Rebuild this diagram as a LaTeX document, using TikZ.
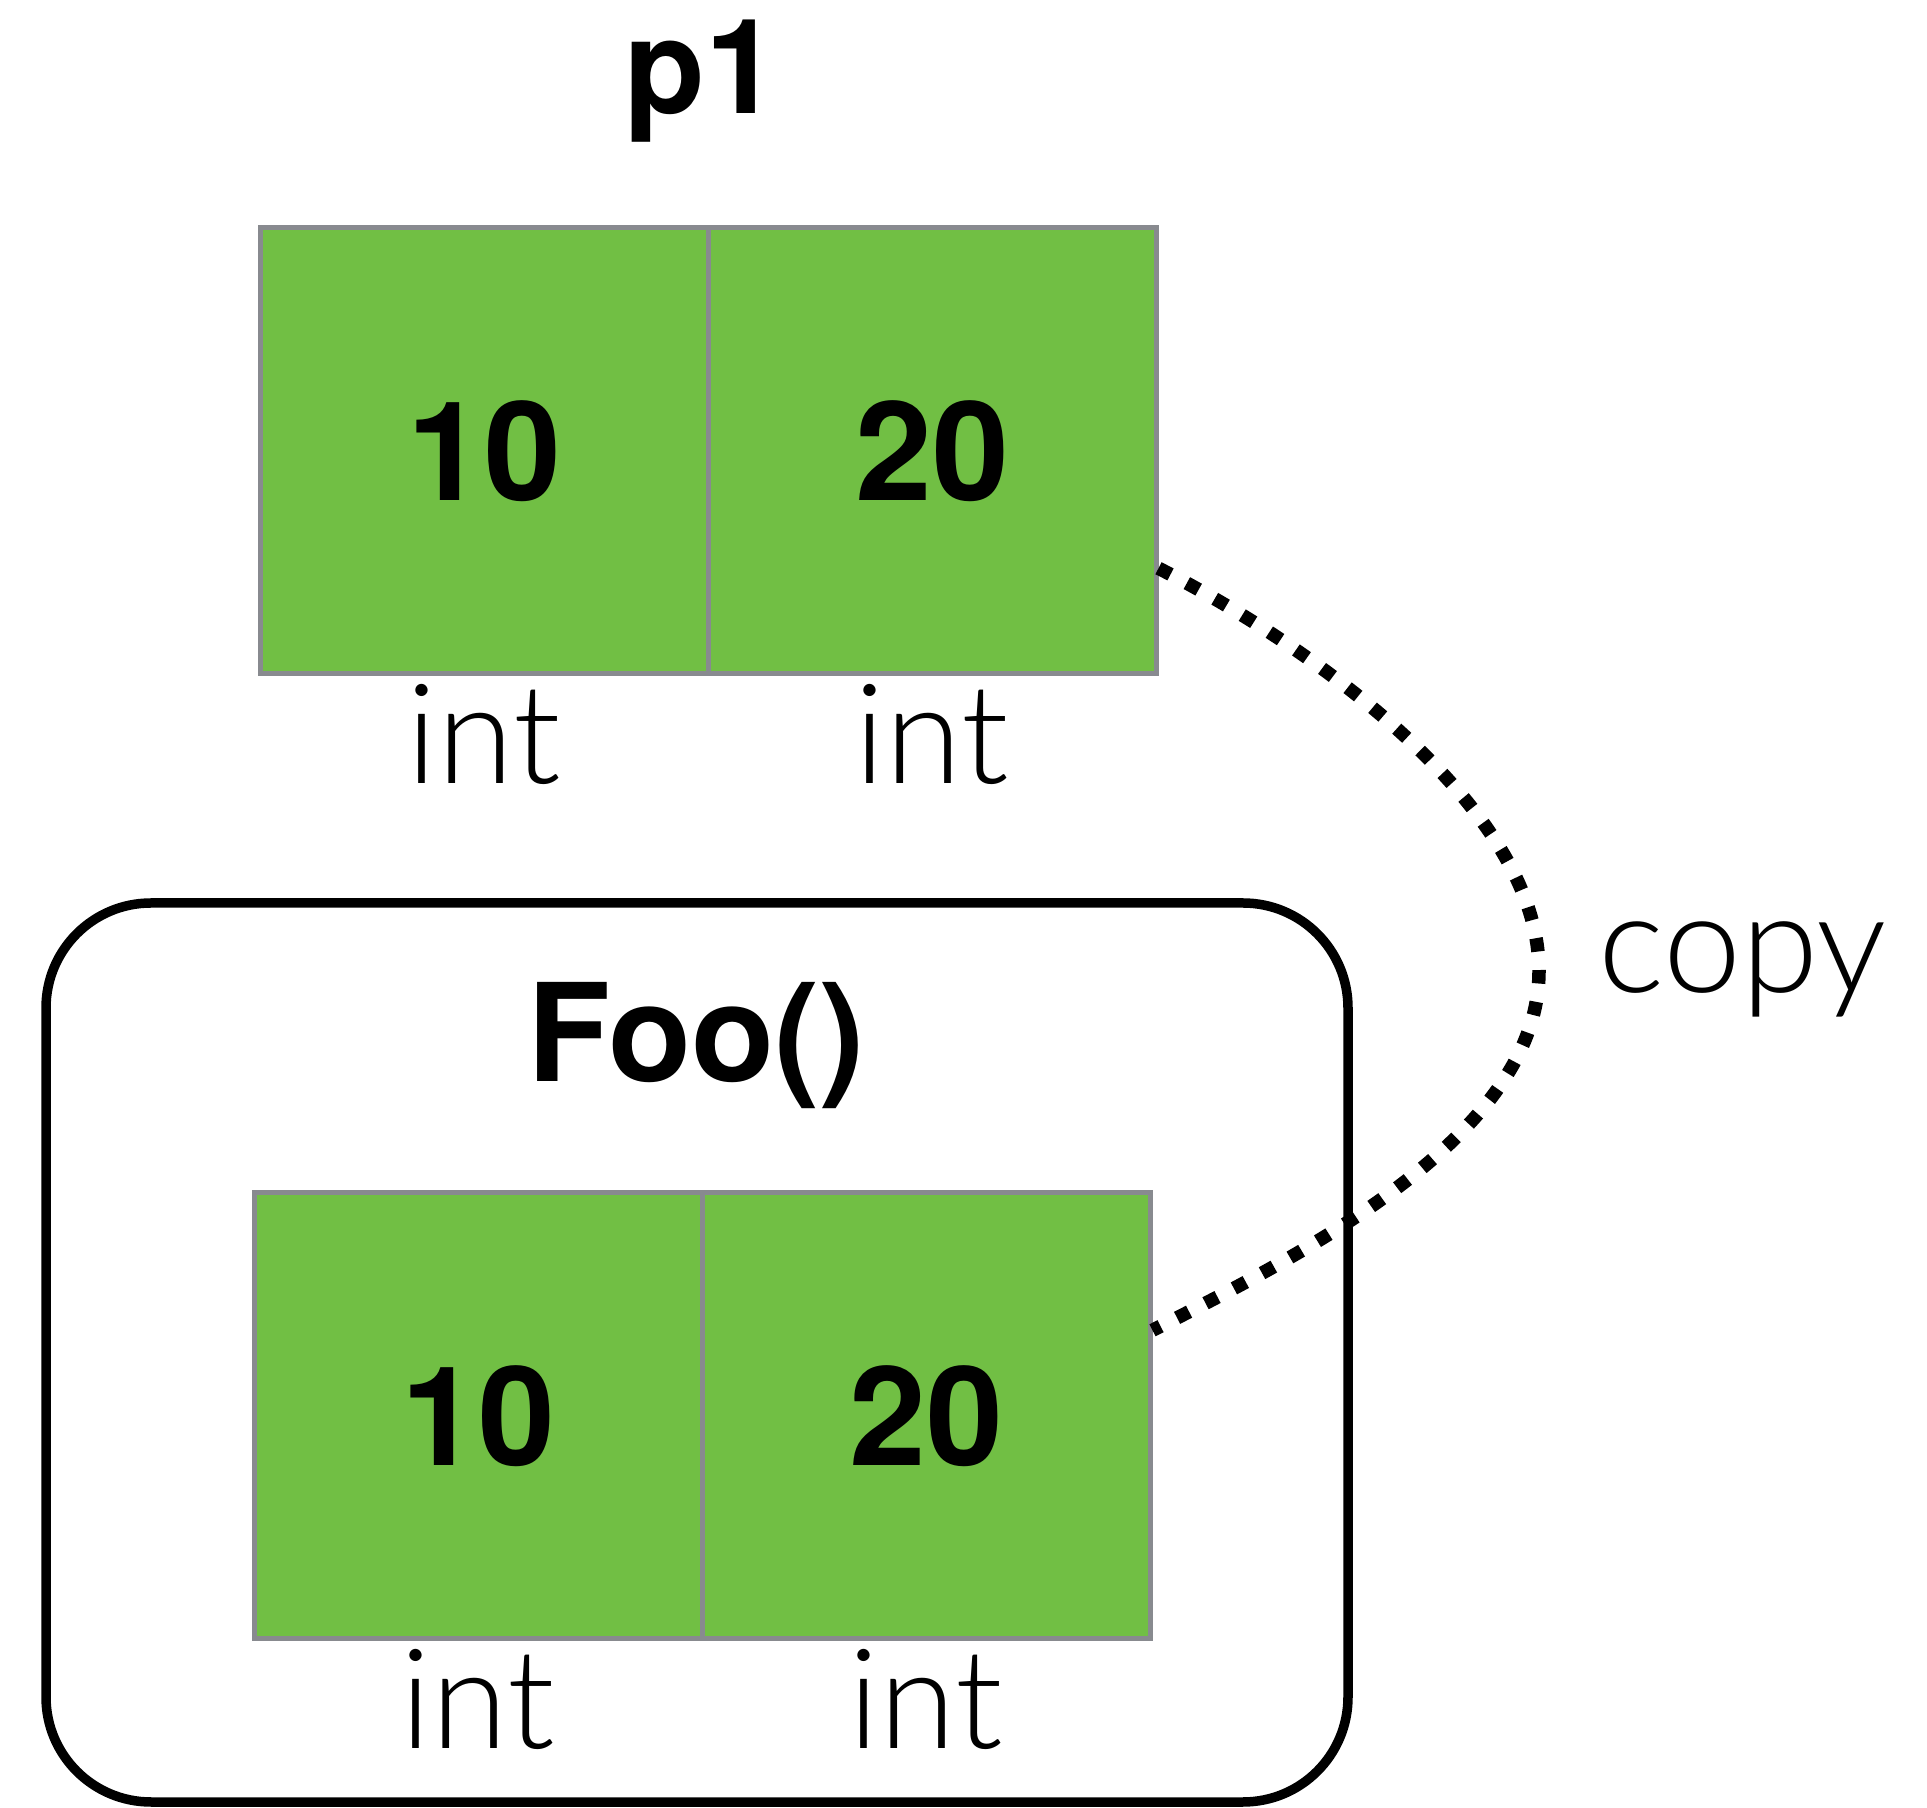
\documentclass[tikz,border=0pt]{standalone}
\usepackage{fontspec}
\usetikzlibrary{calc}
\setmainfont{TeX Gyre Heros}
\newfontfamily\labelfont{Lato Light}
\definecolor{cellgreen}{RGB}{113,191,68}
\definecolor{celledge}{RGB}{136,138,143}
\tikzset{
  cell/.style={draw=celledge, line width=5pt, fill=cellgreen,
    minimum width=448pt, minimum height=446pt, inner sep=0pt,
    font=\fontsize{138}{138}\selectfont\bfseries},
  typelabel/.style={anchor=base, inner sep=0pt,
    font=\labelfont\fontsize{139}{139}\selectfont},
  title/.style={anchor=base, inner sep=0pt,
    font=\fontsize{136}{136}\selectfont\bfseries},
  frame/.style={draw=black, line width=9.5pt, rounded corners=105pt},
  copyline/.style={draw=black, line width=13.5pt, dash pattern=on 13.5pt off 18.5pt}
}
\begin{document}
\begin{tikzpicture}[x=1pt, y=1pt]
  \useasboundingbox (0,0) rectangle (1927,1807);

  % caller variable p1
  \node[title, font=\fontsize{132}{132}\selectfont\bfseries] (p1) at (702,1693) {p1};
  \node[cell] (t1) at (484,1356) {10};
  \node[cell] (t2) at (932,1356) {20};
  \node[typelabel] (t1type) at ([yshift=-107pt]t1.south) {int};
  \node[typelabel] (t2type) at ([yshift=-107pt]t2.south) {int};

  % frame of the call Foo()
  \draw[frame] (46,5) rectangle (1348,904);
  \node[title] (foo) at (696,725) {Foo()};
  \node[cell] (b1) at (478,391) {10};
  \node[cell] (b2) at (926,391) {20};
  \node[typelabel] (b1type) at ([yshift=-107pt]b1.south) {int};
  \node[typelabel] (b2type) at ([yshift=-107pt]b2.south) {int};

  % the copy from p1 into the parameter
  \coordinate (cs) at ($(t2.north east)!0.76!(t2.south east)$);
  \coordinate (ce) at ($(b2.north east)!0.31!(b2.south east)$);
  \coordinate (cr) at (1539,836);
  \draw[copyline] (cs) .. controls +(150,-76) and +(0,165) .. (cr)
                       .. controls +(0,-165) and +(150,76) .. (ce);
  \node[anchor=base west, inner sep=0pt, font=\labelfont\fontsize{140}{140}\selectfont]
    (copy) at (1598,814) {copy};
\end{tikzpicture}
\end{document}
